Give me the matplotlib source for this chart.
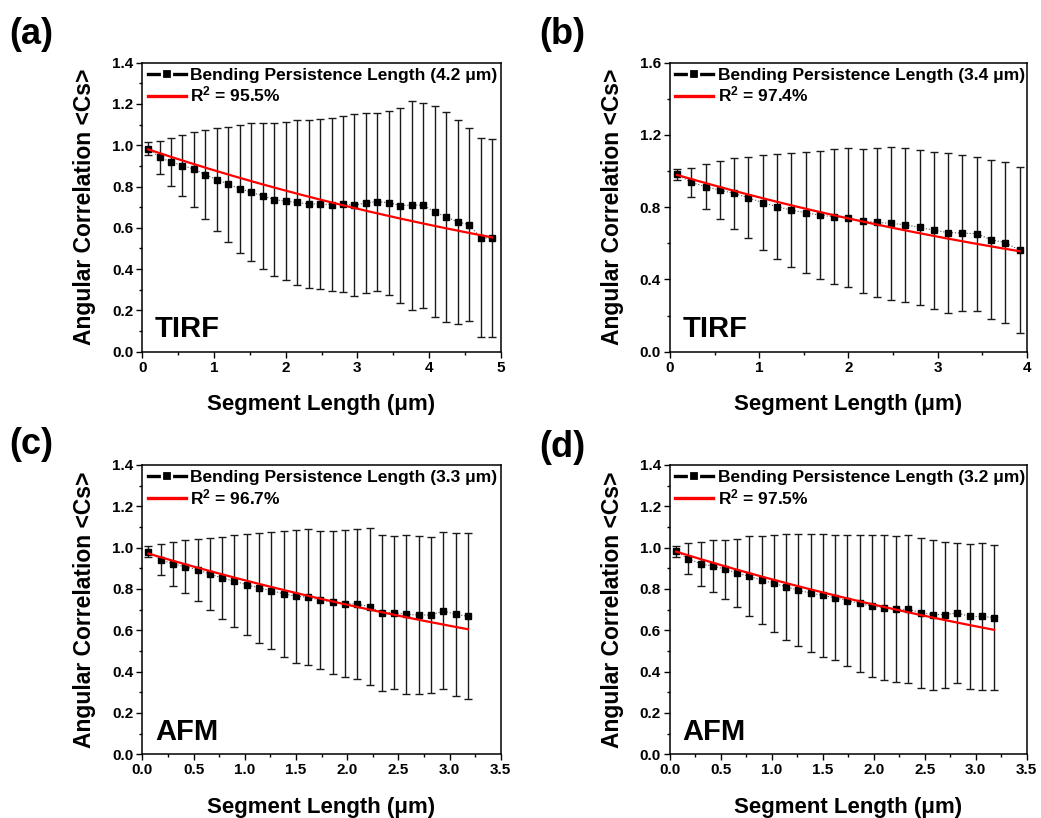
import numpy as np
import matplotlib
matplotlib.use("Agg")
import matplotlib.pyplot as plt
from matplotlib.lines import Line2D
from matplotlib.ticker import MultipleLocator, FormatStrFormatter

plt.rcParams['font.family'] = ['Liberation Sans', 'DejaVu Sans']
plt.rcParams['font.weight'] = 'bold'
plt.rcParams['mathtext.default'] = 'regular'

# ---- (a) TIRF ----
seg_a = [0.08, 0.24, 0.40, 0.56, 0.72, 0.88, 1.04, 1.20, 1.36, 1.52, 1.68,
         1.84, 2.00, 2.16, 2.32, 2.48, 2.64, 2.80, 2.96, 3.12, 3.28, 3.44,
         3.60, 3.76, 3.92, 4.08, 4.24, 4.40, 4.56, 4.72, 4.88]
cs_a = [0.984, 0.942, 0.919, 0.902, 0.884, 0.858, 0.834, 0.811, 0.789, 0.773,
        0.755, 0.737, 0.729, 0.723, 0.716, 0.715, 0.713, 0.715, 0.710, 0.721,
        0.727, 0.721, 0.708, 0.710, 0.710, 0.677, 0.653, 0.629, 0.615, 0.553,
        0.550]
sd_a = [0.030, 0.079, 0.117, 0.148, 0.182, 0.217, 0.248, 0.279, 0.311, 0.333,
        0.352, 0.370, 0.382, 0.398, 0.407, 0.413, 0.419, 0.426, 0.442, 0.435,
        0.431, 0.447, 0.473, 0.506, 0.496, 0.511, 0.509, 0.493, 0.467, 0.482,
        0.481]

# ---- (b) TIRF ----
seg_b = [0.08, 0.24, 0.40, 0.56, 0.72, 0.88, 1.04, 1.20, 1.36, 1.52, 1.68,
         1.84, 2.00, 2.16, 2.32, 2.48, 2.64, 2.80, 2.96, 3.12, 3.28, 3.44,
         3.60, 3.76, 3.92]
cs_b = [0.982, 0.937, 0.913, 0.895, 0.876, 0.852, 0.825, 0.803, 0.784, 0.769,
        0.756, 0.747, 0.742, 0.723, 0.716, 0.710, 0.703, 0.688, 0.673, 0.659,
        0.657, 0.653, 0.620, 0.603, 0.563]
sd_b = [0.030, 0.080, 0.124, 0.159, 0.194, 0.225, 0.264, 0.292, 0.314, 0.336,
        0.356, 0.373, 0.386, 0.399, 0.413, 0.422, 0.427, 0.431, 0.434, 0.442,
        0.434, 0.425, 0.441, 0.446, 0.458]

# ---- (c) AFM ----
seg_c = [0.06, 0.18, 0.30, 0.42, 0.54, 0.66, 0.78, 0.90, 1.02, 1.14, 1.26,
         1.38, 1.50, 1.62, 1.74, 1.86, 1.98, 2.10, 2.22, 2.34, 2.46, 2.58,
         2.70, 2.82, 2.94, 3.06, 3.18]
cs_c = [0.981, 0.942, 0.921, 0.908, 0.892, 0.873, 0.853, 0.837, 0.821, 0.805,
        0.792, 0.777, 0.765, 0.760, 0.747, 0.735, 0.729, 0.727, 0.715, 0.685,
        0.685, 0.677, 0.674, 0.674, 0.694, 0.677, 0.668]
sd_c = [0.027, 0.075, 0.108, 0.127, 0.148, 0.174, 0.197, 0.222, 0.245, 0.268,
        0.282, 0.305, 0.321, 0.328, 0.336, 0.348, 0.357, 0.363, 0.382, 0.378,
        0.369, 0.385, 0.381, 0.378, 0.380, 0.393, 0.402]

# ---- (d) AFM ----
seg_d = [0.06, 0.18, 0.30, 0.42, 0.54, 0.66, 0.78, 0.90, 1.02, 1.14, 1.26,
         1.38, 1.50, 1.62, 1.74, 1.86, 1.98, 2.10, 2.22, 2.34, 2.46, 2.58,
         2.70, 2.82, 2.94, 3.06, 3.18]
cs_d = [0.982, 0.947, 0.922, 0.911, 0.896, 0.877, 0.861, 0.843, 0.827, 0.811,
        0.794, 0.780, 0.769, 0.757, 0.744, 0.730, 0.717, 0.710, 0.702, 0.701,
        0.686, 0.676, 0.676, 0.684, 0.667, 0.667, 0.662]
sd_d = [0.028, 0.075, 0.107, 0.125, 0.143, 0.166, 0.193, 0.214, 0.234, 0.256,
        0.270, 0.285, 0.296, 0.303, 0.316, 0.330, 0.342, 0.350, 0.354, 0.358,
        0.363, 0.363, 0.353, 0.340, 0.353, 0.354, 0.353]

# Fitted bending persistence lengths (µm), fit amplitudes and R² (%)
persistence = [4.2, 3.4, 3.3, 3.2]
fit_amp = [0.99, 0.99, 0.98, 0.99]
r_squared = [95.5, 97.4, 96.7, 97.5]
methods = ['TIRF', 'TIRF', 'AFM', 'AFM']
panel_tags = ['(a)', '(b)', '(c)', '(d)']

x_limits = [5, 4, 3.5, 3.5]
x_major = [1, 1, 0.5, 0.5]
x_minor = [0.5, 0.5, 0.25, 0.25]
x_fmt = ['%d', '%d', '%.1f', '%.1f']
y_limits = [1.4, 1.6, 1.4, 1.4]
y_major = [0.2, 0.4, 0.2, 0.2]
y_minor = [0.1, 0.2, 0.1, 0.1]

segs = [seg_a, seg_b, seg_c, seg_d]
means = [cs_a, cs_b, cs_c, cs_d]
sds = [sd_a, sd_b, sd_c, sd_d]

W, H = 1041, 818
fig = plt.figure(figsize=(W / 100, H / 100), dpi=100)

# axes boxes in pixels: left, top, right, bottom
boxes = [(142.3, 62.7, 500.7, 351.7),
         (670.0, 62.7, 1026.7, 351.7),
         (142.3, 465.0, 500.7, 754.3),
         (670.0, 465.0, 1026.7, 754.3)]
tag_pos = [(9, 34), (539, 34), (9, 445), (539, 447)]

for i in range(4):
    l, t, r, b = boxes[i]
    ax = fig.add_axes([l / W, 1 - b / H, (r - l) / W, (b - t) / H])
    x = np.array(segs[i])
    y = np.array(means[i])
    e = np.array(sds[i])

    # thin dotted guide joining the mean values
    ax.plot(x, y, color='#555555', ls=':', lw=0.8, zorder=2)
    ax.errorbar(x, y, yerr=e, fmt='s', color='black', ms=3.9,
                ecolor='#1a1a1a', elinewidth=1.0, capsize=2.6, capthick=1.0,
                zorder=3)

    # worm-like chain fit in 2D: <cos θ> = A exp(-s / 2Lp)
    xs = np.linspace(x[0], x[-1], 200)
    ax.plot(xs, fit_amp[i] * np.exp(-xs / (2 * persistence[i])),
            color='#ff0000', lw=1.6, zorder=4)

    ax.set_xlim(0, x_limits[i])
    ax.set_ylim(0, y_limits[i])
    ax.xaxis.set_major_locator(MultipleLocator(x_major[i]))
    ax.xaxis.set_minor_locator(MultipleLocator(x_minor[i]))
    ax.yaxis.set_major_locator(MultipleLocator(y_major[i]))
    ax.yaxis.set_minor_locator(MultipleLocator(y_minor[i]))
    ax.xaxis.set_major_formatter(FormatStrFormatter(x_fmt[i]))
    ax.yaxis.set_major_formatter(FormatStrFormatter('%.1f'))
    ax.tick_params(which='both', direction='out', top=False, right=False,
                   width=1.0, labelsize=11, pad=2)
    ax.tick_params(which='major', length=4.5)
    ax.tick_params(which='minor', length=2.5)
    for sp in ax.spines.values():
        sp.set_linewidth(1.1)

    ax.set_xlabel('Segment Length (μm)', fontsize=16, fontweight='bold')
    ax.set_ylabel('Angular Correlation <Cs>', fontsize=16.5,
                  fontweight='bold')
    ax.xaxis.set_label_coords(0.5, -0.148)
    ax.yaxis.set_label_coords(-0.128, 0.5)

    ax.text(0.035, 0.05, methods[i], transform=ax.transAxes, fontsize=21,
            fontweight='bold', ha='left', va='baseline')

    handles = [Line2D([], [], color='black', lw=2.4, ls='-', marker='s',
                      ms=7.5, markerfacecolor='black',
                      markeredgecolor='white', markeredgewidth=1.6),
               Line2D([], [], color='#ff0000', lw=2.4)]
    labels = ['Bending Persistence Length (%.1f μm)' % persistence[i],
              'R$^{2}$ = %.1f%%' % r_squared[i]]
    ax.legend(handles, labels, loc='upper left', frameon=False,
              handlelength=2.2, handletextpad=0.25,
              labelspacing=0.1, borderaxespad=0.1, borderpad=0.2,
              prop={'weight': 'bold', 'size': 12.5})

    fig.text(tag_pos[i][0] / W, 1 - tag_pos[i][1] / H, panel_tags[i],
             fontsize=26, fontweight='bold', ha='left', va='center')

fig.savefig('out.png', dpi=100, facecolor='white')
